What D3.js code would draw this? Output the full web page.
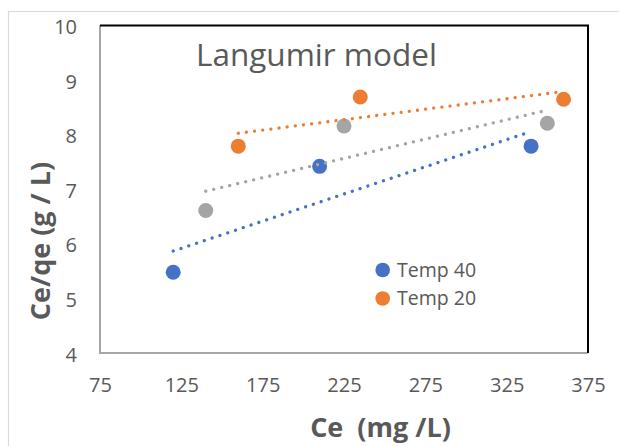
<!DOCTYPE html>
<html>
<head>
<meta charset="utf-8">
<script src="https://cdn.jsdelivr.net/npm/d3@7"></script>
<style>
  html, body { margin: 0; padding: 0; background: #fff; }
  svg { display: block; }
  text { font-family: "Open Sans", "Noto Sans", sans-serif; fill: #595959; }
</style>
</head>
<body>
<svg id="chart" width="619" height="446"></svg>
<script>
// Langmuir isotherm data: Ce (mg/L) against Ce/qe (g/L)
const ce40 = [120, 210, 340];
const ratio40 = [5.48, 7.42, 7.79];
const ce20 = [160, 235, 360];
const ratio20 = [7.79, 8.69, 8.65];
const ce30 = [140, 225, 350];
const ratio30 = [6.61, 8.16, 8.21];

const seriesNames = ["Temp 40", "Temp 20", "Temp 30"];
const seriesColors = ["#4472c4", "#ed7d31", "#a5a5a5"];
const legendNames = ["Temp 40", "Temp 20"];

const xTicks = [75, 125, 175, 225, 275, 325, 375];
const yTicks = [4, 5, 6, 7, 8, 9, 10];

const chartTitle = "Langumir model";
const xTitle = "Ce  (mg /L)";
const yTitle = "Ce/qe (g / L)";

const series = [
  { name: seriesNames[0], color: seriesColors[0], xs: ce40, ys: ratio40 },
  { name: seriesNames[1], color: seriesColors[1], xs: ce20, ys: ratio20 },
  { name: seriesNames[2], color: seriesColors[2], xs: ce30, ys: ratio30 }
];

const svg = d3.select("#chart");
const plot = { left: 100, right: 588, top: 25.5, bottom: 353 };

const x = d3.scaleLinear().domain([75, 375]).range([plot.left, plot.right]);
const y = d3.scaleLinear().domain([4, 10]).range([plot.bottom, plot.top]);

// chart area frame
svg.append("path")
  .attr("d", `M8.5,446 V11.5 H619`)
  .attr("fill", "none")
  .attr("stroke", "#d9d9d9")
  .attr("stroke-width", 1.2);

// plot area frame: light on left/bottom, dark on top/right
svg.append("path")
  .attr("d", `M${plot.left},${plot.top} V${plot.bottom} H${plot.right}`)
  .attr("fill", "none").attr("stroke", "#a6a6a6").attr("stroke-width", 2);
svg.append("path")
  .attr("d", `M${plot.left},${plot.top} H${plot.right} V${plot.bottom}`)
  .attr("fill", "none").attr("stroke", "#000").attr("stroke-width", 2);

// axes (labels only)
const xAxis = svg.append("g")
  .attr("transform", `translate(0,${plot.bottom})`)
  .call(d3.axisBottom(x).tickValues(xTicks).tickSize(0).tickFormat(d3.format("d")));
xAxis.select(".domain").remove();
xAxis.selectAll("text")
  .attr("y", 39).attr("dy", 0)
  .style("font-size", "20px")
  .style("font-family", "'Open Sans', sans-serif")
  .attr("fill", "#595959");

const yAxis = svg.append("g")
  .attr("transform", `translate(${plot.left},0)`)
  .call(d3.axisLeft(y).tickValues(yTicks).tickSize(0).tickFormat(d3.format("d")));
yAxis.select(".domain").remove();
yAxis.selectAll("text")
  .attr("x", -23).attr("dy", "0.4em")
  .style("font-size", "20px")
  .style("font-family", "'Open Sans', sans-serif")
  .attr("fill", "#595959");

// markers
series.forEach(s => {
  svg.append("g").selectAll("circle")
    .data(s.xs.map((v, i) => [v, s.ys[i]]))
    .join("circle")
    .attr("cx", d => x(d[0]))
    .attr("cy", d => y(d[1]))
    .attr("r", 7.5)
    .attr("fill", s.color);
});

// linear trendlines across each series' x range (least squares)
series.forEach(s => {
  const mx = d3.mean(s.xs), my = d3.mean(s.ys);
  const sxy = d3.sum(s.xs, (v, i) => (v - mx) * (s.ys[i] - my));
  const sxx = d3.sum(s.xs, v => (v - mx) * (v - mx));
  const slope = sxy / sxx, icpt = my - slope * mx;
  const [x0, x1] = d3.extent(s.xs);
  svg.append("line")
    .attr("x1", x(x0)).attr("y1", y(icpt + slope * x0))
    .attr("x2", x(x1)).attr("y2", y(icpt + slope * x1))
    .attr("stroke", s.color)
    .attr("stroke-width", 3.3)
    .attr("stroke-linecap", "round")
    .attr("stroke-dasharray", "0.01 8.2");
});

// title
svg.append("text")
  .attr("x", 196).attr("y", 66)
  .style("font-size", "31.5px")
  .text(chartTitle);

// legend
const legend = svg.append("g");
legendNames.forEach((name, i) => {
  const s = series.find(d => d.name === name);
  const cy = 270 + i * 28.5;
  legend.append("circle").attr("cx", 382.7).attr("cy", cy).attr("r", 7.3).attr("fill", s.color);
  legend.append("text").attr("x", 397).attr("y", cy + 6.5)
    .style("font-size", "19.5px").text(name);
});

// axis titles
svg.append("text")
  .attr("x", 380.5).attr("y", 437)
  .attr("text-anchor", "middle")
  .style("white-space", "pre")
  .style("font-size", "27px").style("font-weight", "bold")
  .text(xTitle);

svg.append("text")
  .attr("transform", "translate(50,241) rotate(-90)")
  .attr("text-anchor", "middle")
  .style("font-size", "27px").style("font-weight", "bold")
  .text(yTitle);
</script>
</body>
</html>
